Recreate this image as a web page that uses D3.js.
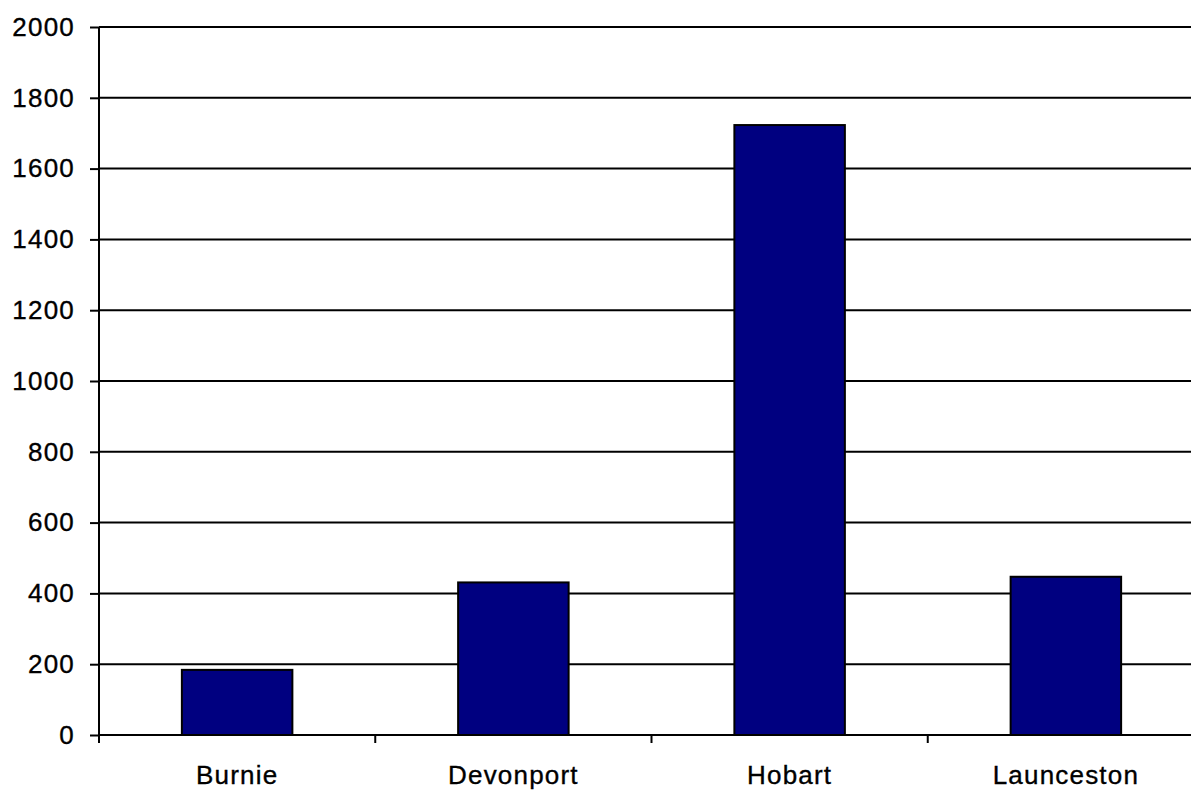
<!DOCTYPE html>
<html>
<head>
<meta charset="utf-8">
<script src="https://cdn.jsdelivr.net/npm/d3@7"></script>
<style>
html,body{margin:0;padding:0;background:#fff;overflow:hidden;}
svg{display:block;}
text{font-family:"Liberation Sans",Arial,sans-serif;fill:#000;}
</style>
</head>
<body>
<svg id="chart" width="1191" height="792"></svg>
<script>
const categories = ["Burnie", "Devonport", "Hobart", "Launceston"];
const values = [184, 431, 1723, 447];
const yTicks = [0, 200, 400, 600, 800, 1000, 1200, 1400, 1600, 1800, 2000];

const svg = d3.select("#chart");
const margin = {left: 99, top: 27, bottom: 57};
const plotRight = 1204;
const W = 1191, H = 792;

const x = d3.scaleBand().domain(categories).range([margin.left, plotRight]).paddingInner(0.6).paddingOuter(0.3);
const xb = d3.scaleBand().domain(categories).range([margin.left, plotRight]);
const y = d3.scaleLinear().domain([0, 2000]).range([H - margin.bottom, margin.top]);

// gridlines
svg.append("g").selectAll("line").data(yTicks.filter(d => d > 0)).join("line")
  .attr("x1", margin.left).attr("x2", plotRight)
  .attr("y1", d => y(d)).attr("y2", d => y(d))
  .attr("stroke", "#000").attr("stroke-width", 2);

// bars
svg.append("g").selectAll("rect").data(categories).join("rect")
  .attr("x", d => x(d)).attr("width", x.bandwidth())
  .attr("y", (d, i) => y(values[i])).attr("height", (d, i) => y(0) - y(values[i]))
  .attr("fill", "#000080").attr("stroke", "#000").attr("stroke-width", 2);

function styleText(sel) {
  sel.style("font-size", "26px").style("letter-spacing", "1.2px")
    .attr("font-family", null).attr("stroke", "#000").attr("stroke-width", 0.35);
}

// y axis
const yAxis = d3.axisLeft(y).tickValues(yTicks).tickSize(9).tickPadding(15).tickFormat(d3.format("d"));
const gy = svg.append("g").attr("transform", `translate(${margin.left},0)`).call(yAxis);
gy.select(".domain").attr("stroke-width", 2).attr("d", `M0,${y(2000)}V${y(0) + 8}`);
gy.selectAll(".tick line").attr("stroke-width", 2);
gy.selectAll(".tick text").call(styleText);

// x axis
const xAxis = d3.axisBottom(xb).tickSize(0).tickPadding(31);
const gx = svg.append("g").attr("transform", `translate(0,${y(0)})`).call(xAxis);
gx.select(".domain").attr("stroke-width", 2).attr("d", `M${margin.left},0H${plotRight}`);
gx.selectAll(".tick text").call(styleText);
// boundary ticks between categories
svg.append("g").selectAll("line").data(categories.slice(1)).join("line")
  .attr("x1", d => xb(d)).attr("x2", d => xb(d))
  .attr("y1", y(0)).attr("y2", y(0) + 8)
  .attr("stroke", "#000").attr("stroke-width", 2);
</script>
</body>
</html>
